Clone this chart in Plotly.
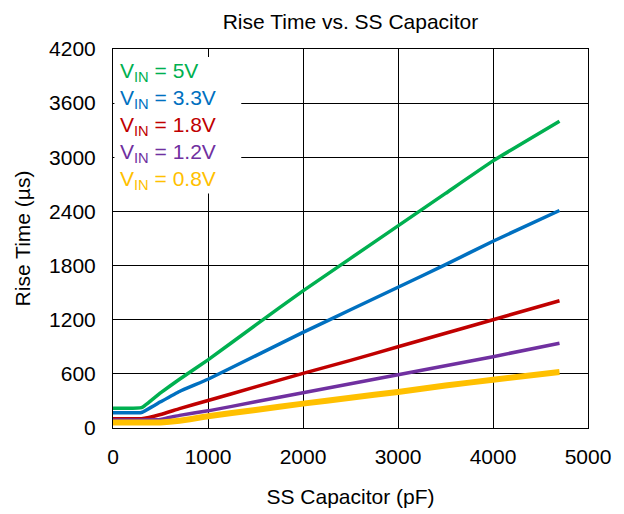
import plotly.graph_objects as go

# SS capacitor (pF)
cap = [0, 300, 500, 700, 1000, 1500, 2000, 2500, 3000, 3500, 4000, 4700]

vin_5v   = [220, 225, 390, 540, 755, 1140, 1520, 1880, 2240, 2600, 2960, 3400]
vin_3v3  = [170, 172, 290, 405, 540, 800, 1060, 1310, 1560, 1810, 2070, 2410]
vin_1v8  = [103, 103, 150, 215, 305, 455, 605, 750, 900, 1050, 1200, 1410]
vin_1v2  = [90, 90, 95, 140, 190, 290, 390, 490, 590, 690, 790, 940]
vin_0v8  = [60, 60, 62, 80, 130, 200, 270, 335, 400, 470, 535, 620]

names = ["V<sub>IN</sub> = 5V", "V<sub>IN</sub> = 3.3V", "V<sub>IN</sub> = 1.8V",
         "V<sub>IN</sub> = 1.2V", "V<sub>IN</sub> = 0.8V"]
series = [vin_5v, vin_3v3, vin_1v8, vin_1v2, vin_0v8]
colors = ["#00B050", "#0070C0", "#C00000", "#7030A0", "#FFC000"]
widths = [3.5, 3.5, 3.5, 3.5, 6]

font = "Liberation Sans, Arial, sans-serif"

fig = go.Figure()
for n, s, c, w in zip(names, series, colors, widths):
    fig.add_trace(go.Scatter(x=cap, y=s, mode="lines", name=n,
                             line=dict(color=c, width=w, shape="spline", smoothing=0.3),
                             showlegend=False))

# legend as text annotations on a white box
fig.add_shape(type="rect", xref="x", yref="y", x0=15, x1=1350, y0=2600, y1=4110,
              fillcolor="white", line=dict(width=0), layer="above")
legend_y = [3950, 3650, 3350, 3050, 2750]
for n, c, yy in zip(names, colors, legend_y):
    fig.add_annotation(x=50, y=yy, xref="x", yref="y", text=n, showarrow=False,
                       xanchor="left", yanchor="middle",
                       font=dict(family=font, size=21, color=c))

fig.update_layout(
    width=624, height=514,
    margin=dict(l=113, r=36, t=49, b=86),
    paper_bgcolor="white", plot_bgcolor="white",
    font=dict(family=font, color="black"),
    title=dict(text="Rise Time vs. SS Capacitor", x=0.5, xref="paper", xanchor="center",
               y=1 - 22 / 514, yanchor="middle", font=dict(size=21, color="black")),
)
fig.update_xaxes(range=[0, 5000], dtick=1000, tick0=0, automargin=False,
                 showline=True, linecolor="black", linewidth=1, mirror=True,
                 showgrid=True, gridcolor="black", gridwidth=1,
                 ticks="", tickfont=dict(size=21), ticklabelstandoff=10,
                 title=dict(text="SS Capacitor (pF)", font=dict(size=21), standoff=22),
                 zeroline=False)
fig.update_yaxes(range=[0, 4200], dtick=600, tick0=0, automargin=False,
                 showline=True, linecolor="black", linewidth=1, mirror=True,
                 showgrid=True, gridcolor="black", gridwidth=1,
                 ticks="", tickfont=dict(size=21), ticklabelstandoff=12,
                 title=dict(text="Rise Time (µs)", font=dict(size=21), standoff=12),
                 zeroline=False)

fig.write_html("out.html")
